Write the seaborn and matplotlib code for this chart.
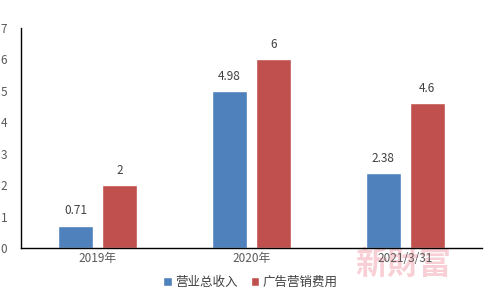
import matplotlib
matplotlib.use("Agg")
import matplotlib.pyplot as plt
import seaborn as sns
import pandas as pd

categories = ["2019年", "2020年", "2021/3/31"]
series_names = ["营业总收入", "广告营销费用"]
revenue = [0.71, 4.98, 2.38]
ad_cost = [2, 6, 4.6]
colors = ["#4F81BD", "#C0504D"]

sns.set_theme(style="white")
plt.rcParams['font.family'] = ['Noto Sans CJK SC', 'DejaVu Sans']

df = pd.DataFrame({
    "cat": categories * 2,
    "series": [series_names[0]] * 3 + [series_names[1]] * 3,
    "value": revenue + ad_cost,
})

fig = plt.figure(figsize=(5.01, 3.01), dpi=100)
ax = fig.add_axes([0.042, 0.176, 0.920, 0.731])
ax.patch.set_alpha(0)
sns.barplot(data=df, x="cat", y="value", hue="series", palette=colors,
            width=0.572, gap=0.2, ax=ax, legend=True, saturation=1)

for cont in ax.containers:
    ax.bar_label(cont, labels=[f"{v:g}" for v in cont.datavalues],
                 padding=6, fontsize=8.5, color="#404040")

ax.set_ylim(0, 7)
ax.set_xlim(-0.5, 2.5)
ax.set_yticks(range(0, 8))
ax.set_xlabel("")
ax.set_ylabel("")
ax.tick_params(axis="both", length=0, labelsize=8.5, colors="#595959", pad=3)
ax.tick_params(axis="y", pad=10)
for s in ["top", "right"]:
    ax.spines[s].set_visible(False)
for s in ["left", "bottom"]:
    ax.spines[s].set_color("black")
    ax.spines[s].set_linewidth(1)

h, l = ax.get_legend_handles_labels()
ax.legend_.remove()
fig.legend(h, l, loc="center", bbox_to_anchor=(0.5, 0.063), ncol=2, frameon=False,
           fontsize=9, handlelength=0.7, handleheight=0.7, handletextpad=0.3,
           columnspacing=1.0, labelcolor="#404040")

fig.text(0.805, 0.12, "新財富", fontsize=23, color="#F4A8B2", alpha=0.55,
         ha="center", va="center", family=["Noto Sans CJK TC", "DejaVu Sans"],
         fontweight="bold", zorder=-1)

fig.savefig("out.png", dpi=100)
